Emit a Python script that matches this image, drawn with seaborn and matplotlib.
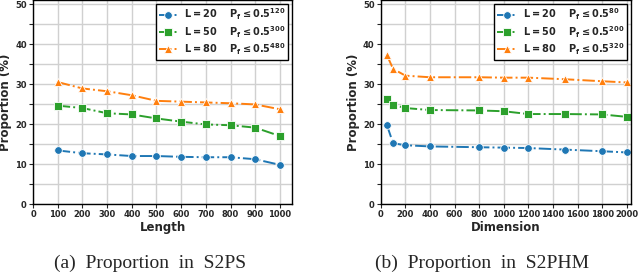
import numpy as np
import pandas as pd
import seaborn as sns
import matplotlib.pyplot as plt
from matplotlib.ticker import MultipleLocator

# data
length = [100, 200, 300, 400, 500, 600, 700, 800, 900, 1000]
s2ps_l20 = [13.4, 12.7, 12.4, 12.0, 12.0, 11.8, 11.7, 11.7, 11.2, 9.8]
s2ps_l50 = [24.6, 24.0, 22.7, 22.4, 21.4, 20.6, 19.9, 19.7, 19.1, 17.0]
s2ps_l80 = [30.5, 28.9, 28.2, 27.2, 25.8, 25.6, 25.4, 25.2, 24.9, 23.7]

dimension = [50, 100, 200, 400, 800, 1000, 1200, 1500, 1800, 2000]
s2phm_l20 = [19.7, 15.2, 14.7, 14.4, 14.2, 14.1, 14.0, 13.6, 13.2, 12.9]
s2phm_l50 = [26.3, 24.8, 24.0, 23.5, 23.4, 23.2, 22.5, 22.5, 22.4, 21.8]
s2phm_l80 = [37.2, 33.8, 32.1, 31.7, 31.7, 31.6, 31.6, 31.2, 30.7, 30.4]

labels_a = [r"$\mathbf{L=20}$    $\mathbf{P_f \leq 0.5^{120}}$",
            r"$\mathbf{L=50}$    $\mathbf{P_f \leq 0.5^{300}}$",
            r"$\mathbf{L=80}$    $\mathbf{P_f \leq 0.5^{480}}$"]
labels_b = [r"$\mathbf{L=20}$    $\mathbf{P_f \leq 0.5^{80}}$",
            r"$\mathbf{L=50}$    $\mathbf{P_f \leq 0.5^{200}}$",
            r"$\mathbf{L=80}$    $\mathbf{P_f \leq 0.5^{320}}$"]

sns.set_theme(style="ticks")
plt.rcParams['font.family'] = ['DejaVu Sans']
plt.rcParams['font.weight'] = 'bold'

colors = ['tab:blue', 'tab:green', 'tab:orange']
markers = ['o', 's', '^']

fig = plt.figure(figsize=(6.4, 2.73), dpi=100)
ax1 = fig.add_axes([0.0516, 0.2527, 0.405, 0.747])
ax2 = fig.add_axes([0.595, 0.2527, 0.391, 0.747])


def draw(ax, x, series, labels, xlabel, xlim, xstep):
    for y, lab, c, m in zip(series, labels, colors, markers):
        df = pd.DataFrame({'x': x, 'y': y})
        sns.lineplot(data=df, x='x', y='y', ax=ax, color=c, marker=m,
                     linestyle='-.', markersize=5.5, markeredgewidth=0.6,
                     markeredgecolor='white', label=lab, linewidth=1.4)
    ax.set_xlim(*xlim)
    ax.set_ylim(0, 51)
    ax.xaxis.set_major_locator(MultipleLocator(xstep))
    ax.yaxis.set_major_locator(MultipleLocator(10))
    ax.yaxis.set_minor_locator(MultipleLocator(5))
    ax.grid(True, which='major', color='#d0d0d0', linewidth=1)
    ax.grid(True, which='minor', axis='y', color='#d0d0d0', linewidth=1)
    ax.tick_params(axis='both', which='both', labelsize=6, length=3, width=0.8, pad=1.5)
    for t in ax.get_xticklabels() + ax.get_yticklabels():
        t.set_fontweight('bold')
    ax.set_xlabel(xlabel, fontsize=8.5, fontweight='bold', labelpad=1)
    ax.set_ylabel('Proportion (%)', fontsize=8.5, fontweight='bold', labelpad=2)
    for s in ax.spines.values():
        s.set_color('black')
        s.set_linewidth(1)
    leg = ax.legend(loc='upper right', fontsize=7, frameon=True, fancybox=False,
                    edgecolor='black', framealpha=1, borderaxespad=0.4,
                    handlelength=2.0, handletextpad=0.6, labelspacing=0.15,
                    borderpad=0.3)
    leg.get_frame().set_linewidth(1)


draw(ax1, length, [s2ps_l20, s2ps_l50, s2ps_l80], labels_a, 'Length', (0, 1050), 100)
draw(ax2, dimension, [s2phm_l20, s2phm_l50, s2phm_l80], labels_b, 'Dimension', (0, 2035), 200)

fig.text(0.235, 0.037, '(a)  Proportion  in  S2PS', family='Liberation Serif',
         fontsize=14, ha='center', va='center', fontweight='normal')
fig.text(0.754, 0.037, '(b)  Proportion  in  S2PHM', family='Liberation Serif',
         fontsize=14, ha='center', va='center', fontweight='normal')

fig.savefig('out.png', dpi=100)
